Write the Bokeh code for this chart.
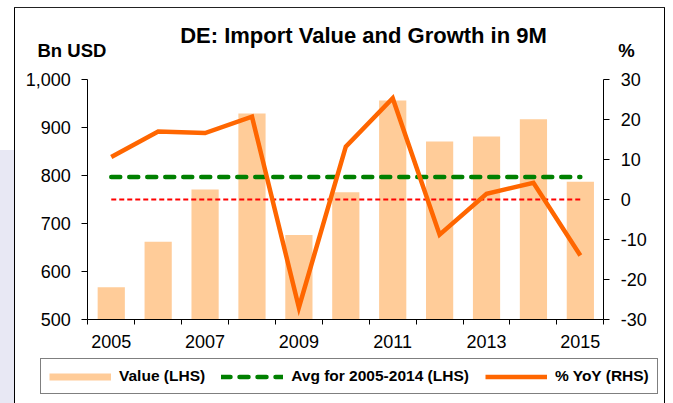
from bokeh.plotting import figure
from bokeh.models import (Range1d, LinearAxis, FixedTicker, NumeralTickFormatter,
                          Legend, LegendItem, Label)
from bokeh.embed import file_html
from bokeh.resources import INLINE

# ---- data ----
years = [2005, 2006, 2007, 2008, 2009, 2010, 2011, 2012, 2013, 2014, 2015]
import_value = [567, 662, 771, 929, 676, 765, 956, 871, 881, 917, 787]   # Bn USD (LHS)
yoy_pct = [10.6, 17.0, 16.6, 20.7, -27.0, 13.2, 25.3, -8.8, 1.4, 4.2, -14.0]  # % (RHS)
avg_2005_2014 = 797
zero_ref = 0
left_ticks = [500, 600, 700, 800, 900, 1000]
right_ticks = [-30, -20, -10, 0, 10, 20, 30]
x_label_years = [2005, 2007, 2009, 2011, 2013, 2015]

FONT = "Liberation Sans"
BAR_COLOR = "#FFCC99"
AVG_COLOR = "#008000"
YOY_COLOR = "#FF6600"

# ---- page layout (pixels) ----
W, H = 673, 403
AX_L, AX_R = 87.3, 603.3      # left / right axis lines
AX_T, AX_B = 79.0, 319.0      # top / bottom of the value scale

x_lo, x_hi = years[0] - 0.5, years[-1] + 0.5
xu = (x_hi - x_lo) / (AX_R - AX_L)
yl_lo, yl_hi = left_ticks[0], left_ticks[-1]
ylu = (yl_hi - yl_lo) / (AX_B - AX_T)
yr_lo, yr_hi = right_ticks[0], right_ticks[-1]
yru = (yr_hi - yr_lo) / (AX_B - AX_T)

p = figure(width=W, height=H, output_backend="svg", toolbar_location=None,
           min_border=0,
           x_range=Range1d(x_lo - AX_L * xu, x_hi + (W - AX_R) * xu),
           y_range=Range1d(yl_lo - (H - AX_B) * ylu, yl_hi + AX_T * ylu))
p.extra_y_ranges = {"pct": Range1d(yr_lo - (H - AX_B) * yru, yr_hi + AX_T * yru)}
p.grid.visible = False
p.outline_line_color = None
p.background_fill_alpha = 0
p.border_fill_alpha = 0

# outer chart box and page background drawn behind the transparent canvas
p.styles = {
    "background": (
        "linear-gradient(#222,#222) 14px 7px / 651px 1px no-repeat, "
        "linear-gradient(#000,#000) 14px 7px / 1px 420px no-repeat, "
        "linear-gradient(#000,#000) 664px 7px / 1px 420px no-repeat, "
        "linear-gradient(#fff,#fff) 14px 7px / 651px 420px no-repeat, "
        "linear-gradient(#e8e8f4,#e8e8f4) 0px 150px / 14px 300px no-repeat, "
        "#ffffff"
    )
}

# x axis (category boundaries as tick marks, every other year labelled)
xa = p.xaxis[0]
xa.fixed_location = yl_lo
xa.bounds = (x_lo, x_hi)
xa.ticker = FixedTicker(ticks=x_label_years,
                        minor_ticks=[y - 0.5 for y in years] + [x_hi])
xa.major_tick_out = 0
xa.major_tick_in = 0
xa.minor_tick_out = 5
xa.minor_tick_in = 0
xa.minor_tick_line_color = "black"
xa.axis_line_color = "black"
xa.major_label_text_font = FONT
xa.major_label_text_font_size = "18px"
xa.major_label_text_color = "black"
xa.major_label_standoff = 10

# left axis
ya = p.yaxis[0]
ya.fixed_location = x_lo
ya.bounds = (yl_lo, yl_hi)
ya.ticker = FixedTicker(ticks=left_ticks)
ya.formatter = NumeralTickFormatter(format="0,0")
ya.major_tick_out = 6
ya.major_tick_in = 0
ya.minor_tick_out = 0
ya.minor_tick_in = 0
ya.axis_line_color = "black"
ya.major_tick_line_color = "black"
ya.major_label_text_font = FONT
ya.major_label_text_font_size = "18px"
ya.major_label_text_color = "black"
ya.major_label_standoff = 11

# right axis
ra = LinearAxis(y_range_name="pct", ticker=FixedTicker(ticks=right_ticks),
                formatter=NumeralTickFormatter(format="0"),
                fixed_location=x_hi, bounds=(yr_lo, yr_hi))
ra.major_tick_out = 6
ra.major_tick_in = 0
ra.minor_tick_out = 0
ra.minor_tick_in = 0
ra.axis_line_color = "black"
ra.major_tick_line_color = "black"
ra.major_label_text_font = FONT
ra.major_label_text_font_size = "18px"
ra.major_label_text_color = "black"
ra.major_label_standoff = 11
p.add_layout(ra, "right")

# bars and lines
p.vbar(x=years, top=import_value, bottom=yl_lo, width=0.58,
       fill_color=BAR_COLOR, line_color=None)
p.line(x=[years[0], years[-1]], y=[zero_ref, zero_ref], y_range_name="pct",
       line_color="#FF0000", line_width=1.8, line_dash="5 3")
avg_r = p.line(x=[years[0], years[-1]], y=[avg_2005_2014, avg_2005_2014],
               line_color=AVG_COLOR, line_width=4.5, line_dash="9 9", line_cap="round")
yoy_r = p.line(x=years, y=yoy_pct, y_range_name="pct",
               line_color=YOY_COLOR, line_width=4.5, line_join="miter")
# legend-only swatch for the bars (no visible point)
bar_swatch = p.line(x=[float("nan")], y=[float("nan")], line_color=BAR_COLOR,
                    line_width=7)

# titles
p.add_layout(Label(x=363, y=H - 35, x_units="screen", y_units="screen",
                   text="DE: Import Value and Growth in 9M", text_font=FONT,
                   text_font_style="bold", text_font_size="22px",
                   text_align="center", text_baseline="alphabetic",
                   text_color="black"))
p.add_layout(Label(x=37, y=H - 50, x_units="screen", y_units="screen",
                   text="Bn USD", text_font=FONT, text_font_style="bold",
                   text_font_size="18.5px", text_align="left",
                   text_baseline="alphabetic", text_color="black"))
p.add_layout(Label(x=626, y=H - 50, x_units="screen", y_units="screen",
                   text="%", text_font=FONT, text_font_style="bold",
                   text_font_size="18.5px", text_align="center",
                   text_baseline="alphabetic", text_color="black"))

legend = Legend(items=[LegendItem(label="Value (LHS)", renderers=[bar_swatch]),
                       LegendItem(label="Avg for 2005-2014 (LHS)", renderers=[avg_r]),
                       LegendItem(label="% YoY (RHS)", renderers=[yoy_r])],
                orientation="horizontal", location=(40, H - 394),
                label_text_font=FONT, label_text_font_style="bold",
                label_text_font_size="15.5px", label_text_color="black",
                glyph_width=62, glyph_height=17, label_height=17,
                label_standoff=8, spacing=16, padding=8, margin=0,
                border_line_color="black", border_line_width=1,
                background_fill_color="white", background_fill_alpha=1)
p.add_layout(legend)

open("out.html", "w").write(file_html(p, INLINE))
